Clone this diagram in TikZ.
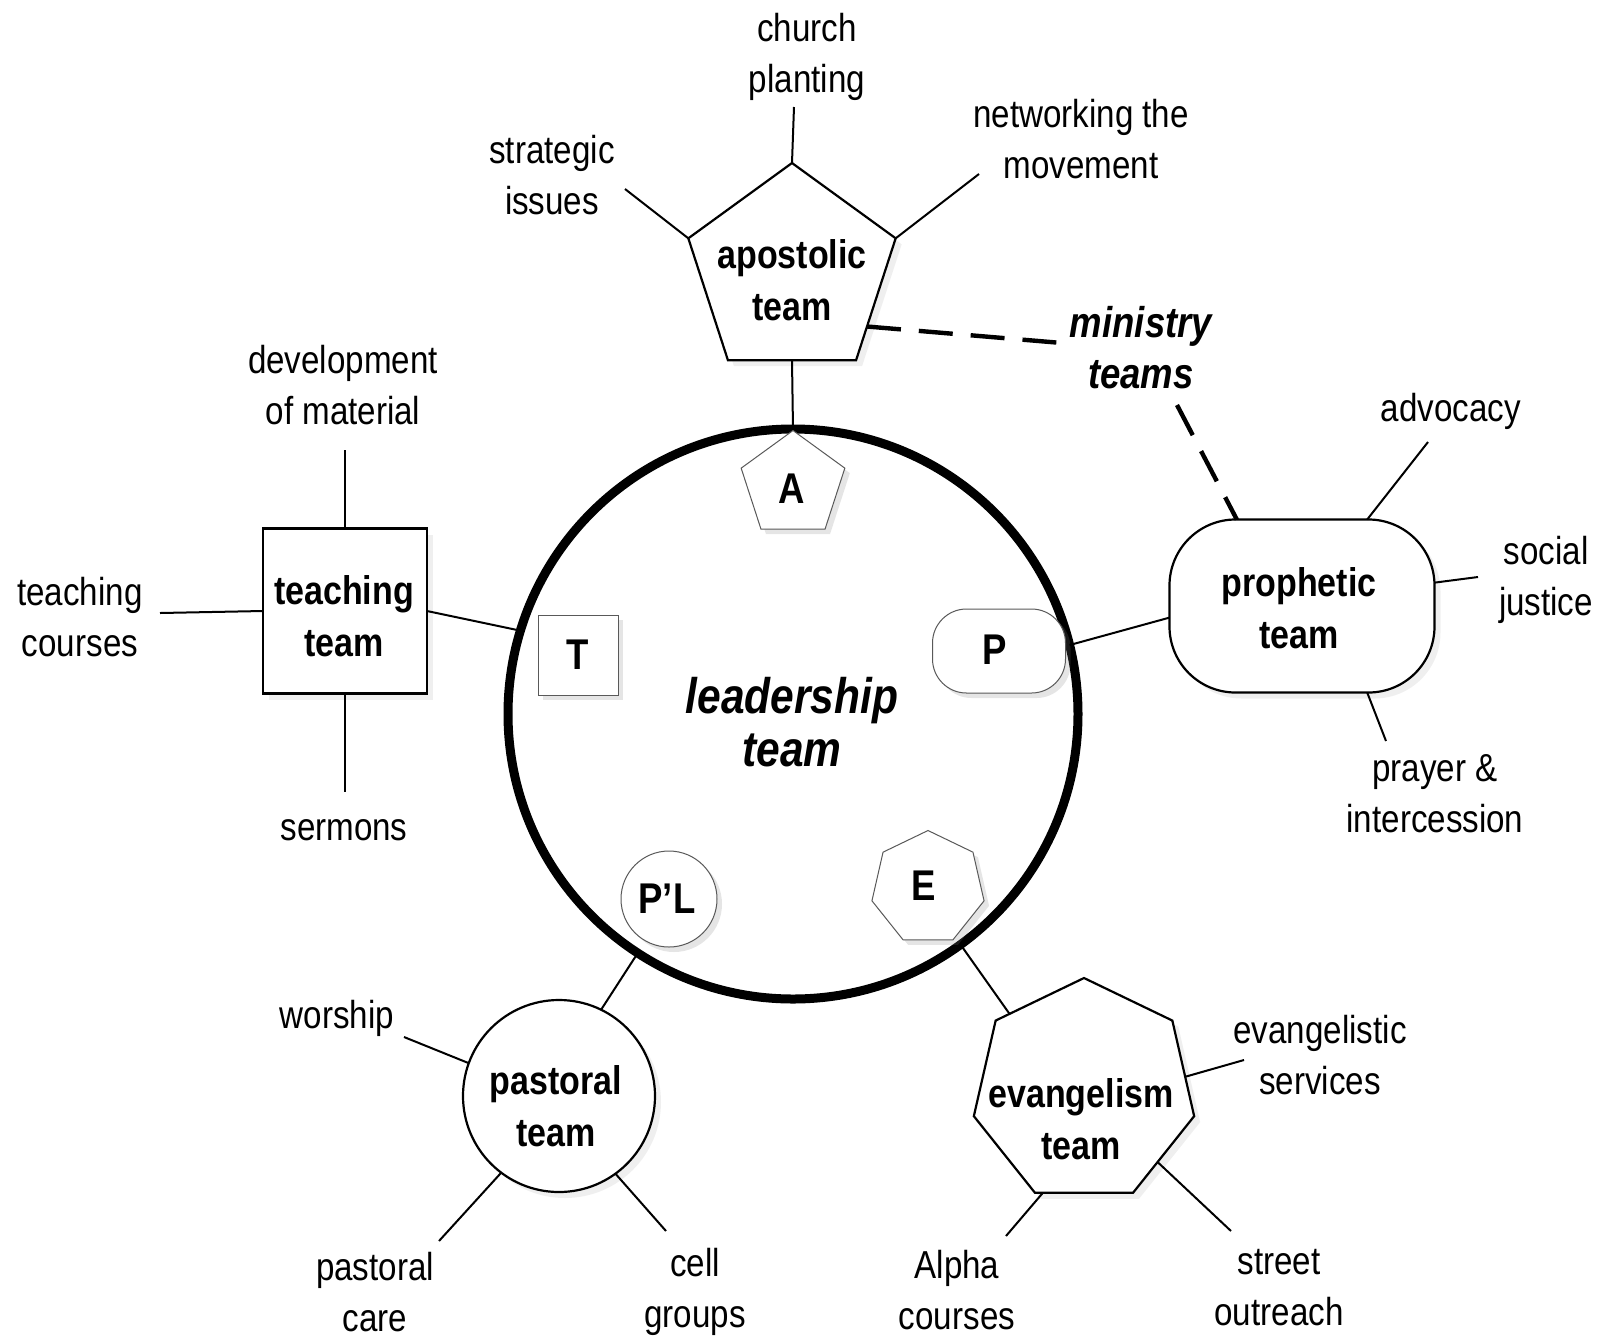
\documentclass[tikz,border=0pt]{standalone}
\usepackage{fontspec}
\setmainfont{Liberation Sans}[FakeStretch=0.85]
\usetikzlibrary{shapes.geometric,shadows}
\begin{document}
\begin{tikzpicture}[x=0.5pt,y=-0.5pt,
  lbl/.style={font=\fontsize{19.5}{25.5}\selectfont, align=center, inner sep=0pt},
  teamtxt/.style={font=\bfseries\fontsize{20}{26}\selectfont, align=center, inner sep=0pt},
  bigtxt/.style={font=\bfseries\itshape\fontsize{25}{26.5}\selectfont, align=center, inner sep=0pt},
  mintxt/.style={font=\bfseries\itshape\fontsize{21.5}{25.5}\selectfont, align=center, inner sep=0pt},
  lettertxt/.style={font=\bfseries\fontsize{21.5}{24}\selectfont, inner sep=0pt},
  bigshape/.style={draw, line width=1.1pt, fill=white, inner sep=0pt, outer sep=0pt,
     drop shadow={opacity=0.12, shadow xshift=3pt, shadow yshift=-3pt}},
  smallshape/.style={draw=black!65, line width=0.5pt, fill=white, inner sep=0pt, outer sep=0pt,
     drop shadow={opacity=0.2, shadow xshift=2.5pt, shadow yshift=-2.5pt}},
  conn/.style={line width=1pt},
  dashconn/.style={line width=2.2pt, dash pattern=on 17pt off 9pt}
]
\useasboundingbox[fill=white] (0,0) rectangle (1602,1340);

% ---- leadership circle ----
\node[draw, circle, line width=4.5pt, fill=white, inner sep=0pt, outer sep=0pt, minimum size=285pt] (lead) at (793,714) {};
\node[bigtxt] (leadtxt) at (792,722) {leadership\\team};

% ---- small shapes inside ----
\node[smallshape, regular polygon, regular polygon sides=5, minimum size=54.5pt] (sA) at (793,485) {};
\node[lettertxt] (sAtxt) at (792,489) {A};
\node[smallshape, rectangle, rounded corners=17pt, minimum width=66.5pt, minimum height=42pt] (sP) at (999,651) {};
\node[lettertxt] (sPtxt) at (995,650) {P};
\node[smallshape, rectangle, minimum size=40pt] (sT) at (578,655) {};
\node[lettertxt] (sTtxt) at (578,655) {T};
\node[smallshape, circle, minimum size=48pt] (sPL) at (669,899) {};
\node[lettertxt] (sPLtxt) at (667,899) {P’L};
\node[smallshape, regular polygon, regular polygon sides=7, minimum size=57.5pt] (sE) at (928,888) {};
\node[lettertxt] (sEtxt) at (924,886) {E};

% ---- team shapes ----
\node[bigshape, regular polygon, regular polygon sides=5, minimum size=109pt] (apost) at (792,272) {};
\node[teamtxt] (aposttxt) at (792,280) {apostolic\\team};

\node[bigshape, rectangle, minimum width=82pt, minimum height=82.5pt] (teach) at (345,611) {};
\node[teamtxt] (teachtxt) at (344,616) {teaching\\team};

\node[bigshape, rectangle, rounded corners=33pt, minimum width=132.5pt, minimum height=86.5pt] (proph) at (1302,606) {};
\node[teamtxt] (prophtxt) at (1299,608) {prophetic\\team};

\node[bigshape, regular polygon, regular polygon sides=7, minimum size=113pt] (evang) at (1084,1091) {};
\node[teamtxt] (evangtxt) at (1081,1119) {evangelism\\team};

\node[bigshape, circle, minimum size=96pt] (past) at (559,1096) {};
\node[teamtxt] (pasttxt) at (556,1106) {pastoral\\team};

% ---- leaf labels ----
\node[lbl] (church) at (807,57) {church\\planting};
\node[lbl] (strat) at (552,175) {strategic\\issues};
\node[lbl] (net) at (1081,139) {networking the\\movement};
\node[lbl] (dev) at (343,385) {development\\of material};
\node[lbl] (tcourses) at (80,617) {teaching\\courses};
\node[lbl] (serm) at (344,830) {sermons};
\node[lbl] (adv) at (1451,411) {advocacy};
\node[lbl] (soc) at (1546,580) {social\\justice};
\node[lbl] (pray) at (1435,794) {prayer \&\\intercession};
\node[lbl] (evs) at (1320,1055) {evangelistic\\services};
\node[lbl] (street) at (1279,1288) {street\\outreach};
\node[lbl] (alpha) at (957,1290) {Alpha\\courses};
\node[lbl] (pcare) at (375,1292) {pastoral\\care};
\node[lbl] (cell) at (695,1292) {cell\\groups};
\node[lbl] (wor) at (337,1018) {worship};
\node[mintxt] (mint) at (1141,348) {ministry\\teams};

% ---- free ends ----
\coordinate (cChurch) at (794,107);
\coordinate (cStrat) at (625,189);
\coordinate (cNet) at (979,174);
\coordinate (cDev) at (345,450);
\coordinate (cTc) at (160,613);
\coordinate (cSerm) at (345,792);
\coordinate (cAdv) at (1428,442);
\coordinate (cSoc) at (1478,577);
\coordinate (cPray) at (1386,741);
\coordinate (cEvs) at (1244,1060);
\coordinate (cStreet) at (1231,1231);
\coordinate (cAlpha) at (1006,1236);
\coordinate (cWor) at (404,1037);
\coordinate (cPcare) at (439,1241);
\coordinate (cCell) at (666,1231);
\coordinate (cDash1) at (1062,343);
\coordinate (cDash2) at (1177,405);

% ---- connectors ----
\draw[conn] (apost.corner 1) -- (cChurch);
\draw[conn] (apost.corner 2) -- (cStrat);
\draw[conn] (apost.corner 5) -- (cNet);
\draw[conn] (apost.south) -- (lead.90);

\draw[conn] (teach.north) -- (cDev);
\draw[conn] (teach.west) -- (cTc);
\draw[conn] (teach.south) -- (cSerm);
\draw[conn] (teach.east) -- (lead.163.6);

\draw[conn] (proph.185) -- (lead.14.7);
\draw[conn] (proph.53) -- (cAdv);
\draw[conn] (proph.10) -- (cSoc);
\draw[conn] (proph.-53) -- (cPray);

\draw[conn] (evang.134) -- (lead.-54);
\draw[conn] (evang.8) -- (cEvs);
\draw[conn] (evang.-44) -- (cStreet);
\draw[conn] (evang.-112) -- (cAlpha);

\draw[conn] (past.64.7) -- (lead.-123);
\draw[conn] (past.160) -- (cWor);
\draw[conn] (past.-127) -- (cPcare);
\draw[conn] (past.-54) -- (cCell);

\draw[dashconn] (apost.-36) -- (cDash1);
\draw[dashconn] (cDash2) -- (proph.127);
\end{tikzpicture}
\end{document}
